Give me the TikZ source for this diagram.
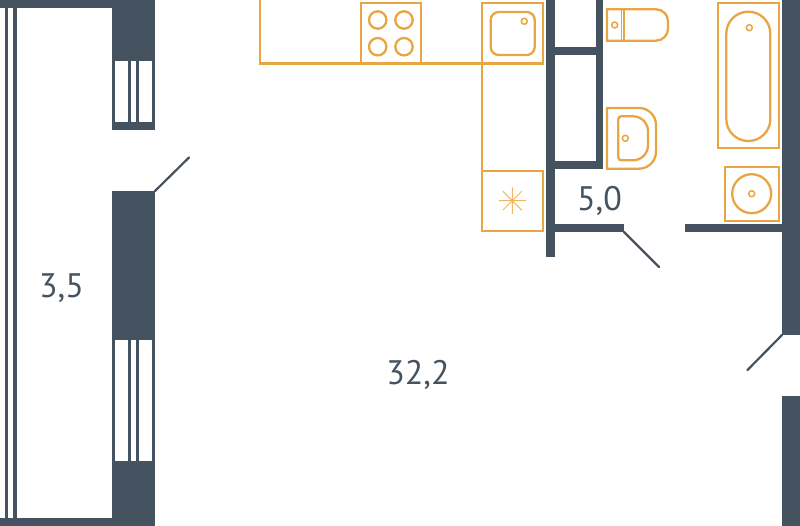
\documentclass[tikz,border=0pt]{standalone}
\usepackage{fontspec}
\setmainfont{PT Sans}
\definecolor{wallc}{HTML}{45525F}
\definecolor{fitc}{HTML}{E9A541}
\tikzset{
  wall/.style={fill=wallc,draw=none},
  pane/.style={fill=white,draw=none},
  doorleaf/.style={draw=wallc,line width=2.2pt,line cap=round},
  fit/.style={draw=fitc,line width=2.3pt,fill=none},
  finefit/.style={draw=fitc,line width=1.5pt,fill=none},
  starfit/.style={draw=fitc,line width=1pt,opacity=.8},
  areatext/.style={text=wallc,font=\fontsize{34}{38}\selectfont,inner sep=0pt}
}
\begin{document}
\begin{tikzpicture}[x=1pt,y=-1pt]
\useasboundingbox (0,0) rectangle (800,526);
% outer walls
\fill[wall] (0,0) rectangle (155,8);
\fill[wall] (0,518) rectangle (155,526);
\fill[wall] (112,0) rectangle (155,130);
\fill[wall] (112,191) rectangle (155,526);
\fill[wall] (4.7,0) rectangle (8.3,526);
\fill[wall] (13,0) rectangle (16.8,526);
\fill[wall] (782,0) rectangle (800,335.5);
\fill[wall] (782,396) rectangle (800,526);
% window panes
\foreach \ya/\yb in {61/122,340.5/461}{
  \fill[pane] (115.2,\ya) rectangle (127.5,\yb);
  \fill[pane] (131,\ya) rectangle (136,\yb);
  \fill[pane] (139.3,\ya) rectangle (151.8,\yb);
}
% inner walls
\fill[wall] (546,0) rectangle (554.7,257);
\fill[wall] (595.7,0) rectangle (603.3,169.3);
\fill[wall] (554,46.7) rectangle (596,55);
\fill[wall] (554,161.3) rectangle (596,169.3);
\fill[wall] (554,224) rectangle (624,232);
\fill[wall] (684.5,224) rectangle (782,232);
% door leaves
\coordinate (d1a) at (155,191); \coordinate (d1b) at (189,157.5);
\coordinate (d2a) at (624,232); \coordinate (d2b) at (659,267);
\coordinate (d3a) at (782,335); \coordinate (d3b) at (747.5,370);
\draw[doorleaf] (d1a) -- (d1b);
\draw[doorleaf] (d2a) -- (d2b);
\draw[doorleaf] (d3a) -- (d3b);
% kitchen
\draw[fit] (260,0) -- (260,63.5) -- (482,63.5);
\draw[fit] (360.7,63.5) |- (421,3.3) -- (421,63.5);
\foreach \cx/\cy in {377.7/20,404/20,377.7/46.7,404/46.7}
  \draw[fit] (\cx,\cy) circle (8.7);
\draw[fit] (482,3.3) rectangle (543,63.5);
\draw[fit,rounded corners=8pt] (490.7,12) rectangle (534.7,55);
\draw[finefit] (524.3,21.3) circle (3);
\draw[fit] (482,63.5) -- (482,170.7);
\draw[fit] (482,170.7) rectangle (543,230.7);
\draw[starfit] (499,200.7) -- (526,200.7) (512.3,187.5) -- (512.3,214)
  (502.8,191.2) -- (521.8,210.2) (502.8,210.2) -- (521.8,191.2);
% toilet
\draw[fit] (607,9.3) [rounded corners=12pt] -- (668,9.3) -- (668,40.7) [sharp corners] -- (607,40.7) -- cycle;
\draw[finefit] (621.7,9.3) -- (621.7,40.7) (624,9.3) -- (624,40.7);
\draw[finefit] (614.7,25) circle (3);
% washbasin
\draw[fit] (607,108) [rounded corners=17pt] -- (656,108) -- (656,168.7) [sharp corners] -- (607,168.7) -- cycle;
\draw[fit] (621.3,116.3) -- (633,116.3) .. controls (641.3,116.3) and (648,123) .. (648,131.3)
  -- (648,145.3) .. controls (648,153.6) and (641.3,160.3) .. (633,160.3)
  -- (621.3,160.3) .. controls (619.6,160.3) and (618.3,159) .. (618.3,157.3)
  -- (618.3,119.3) .. controls (618.3,117.6) and (619.6,116.3) .. (621.3,116.3) -- cycle;
\draw[finefit] (625.3,138.3) circle (3);
% bath
\draw[fit] (718,3.3) rectangle (779,148);
\draw[fit,rounded corners=21.9pt] (726.3,11.7) rectangle (770.3,141);
\draw[finefit] (749.3,27.7) circle (3);
% round basin
\draw[fit] (725,167) rectangle (779,220.7);
\draw[fit] (751.7,193.7) circle (19.5);
\draw[finefit] (751.7,193.7) circle (3);
% labels
\node[areatext] (a1) at (61.5,288) {3,5};
\node[areatext] (a2) at (599.5,201) {5,0};
\node[areatext] (a3) at (418,375) {32,2};
\end{tikzpicture}
\end{document}
